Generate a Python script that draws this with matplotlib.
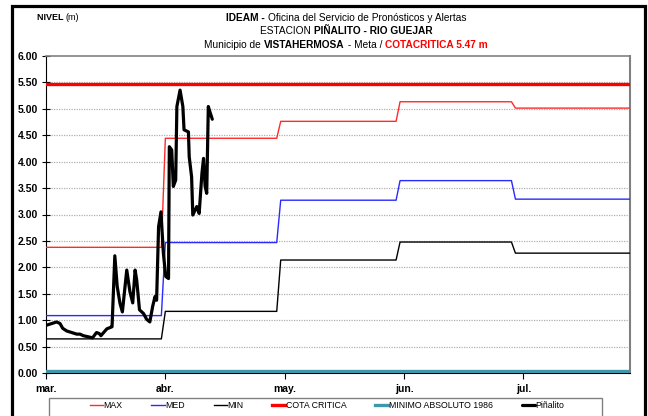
import matplotlib
matplotlib.use('Agg')
import matplotlib.pyplot as plt
from matplotlib.patches import Rectangle

W, H, DPI = 648, 416, 100

# ---------------- data ----------------
month_start = [0, 30, 59, 89, 118]
x_end = 147
max_vals = [2.38, 4.44, 4.76, 5.13, 5.01]
med_vals = [1.09, 2.47, 3.27, 3.64, 3.29]
min_vals = [0.65, 1.17, 2.14, 2.48, 2.27]
cota_critica = 5.47
minimo_absoluto = 0.04

tick_pos = [0, 30, 60, 90, 120]
tick_labels = ['mar.', 'abr.', 'may.', 'jun.', 'jul.']
y_ticks = [0, 0.5, 1, 1.5, 2, 2.5, 3, 3.5, 4, 4.5, 5, 5.5, 6]

pin_day = [0.18, 1.43, 2.69, 3.52, 4.2, 5.2, 6.46, 7.72, 8.55, 9.38, 10.6, 11.7,
           12.7, 13.4, 13.8, 14.6, 15.3, 16.3, 16.6, 17.3, 17.9, 18.6, 19.2,
           20.3, 21.1, 21.8, 22.4, 22.8, 23.5, 24.5, 25.3, 26.1, 26.8, 27.4,
           27.8, 28.3, 28.9, 29.5, 30.1, 30.8, 31.0, 31.6, 32.0, 32.6, 32.9,
           33.7, 34.4, 34.7, 35.8, 36.0, 36.6, 36.9, 37.9, 38.5, 39.2, 39.6,
           40.0, 40.4, 40.8, 41.2, 41.8]
pin_val = [0.91, 0.94, 0.97, 0.94, 0.85, 0.80, 0.77, 0.74, 0.74, 0.71, 0.69, 0.67,
           0.77, 0.75, 0.71, 0.78, 0.84, 0.87, 0.88, 2.22, 1.64, 1.32, 1.16,
           1.95, 1.54, 1.33, 1.95, 1.76, 1.20, 1.13, 1.02, 0.97, 1.26, 1.45,
           1.38, 2.77, 3.05, 2.27, 1.83, 1.79, 4.28, 4.22, 3.53, 3.65, 5.04,
           5.35, 5.04, 4.60, 4.56, 4.09, 3.71, 2.99, 3.15, 3.02, 3.78, 4.06,
           3.53, 3.40, 5.04, 4.94, 4.80]


def steps(vals):
    xs, ys = [], []
    for i, v in enumerate(vals):
        s = month_start[i]
        e = month_start[i + 1] - 1 if i + 1 < len(month_start) else x_end
        xs += [s, e]
        ys += [v, v]
    return xs, ys


FAM = ['Liberation Sans', 'DejaVu Sans']
plt.rcParams['font.family'] = FAM

fig = plt.figure(figsize=(W / DPI, H / DPI), dpi=DPI)
fig.patch.set_facecolor('white')

ax = fig.add_axes([46 / W, 1 - 373.3 / H, (630 - 46) / W, (373.3 - 55.7) / H])
ax.set_xlim(0, 146.8)
ax.set_ylim(0, 6)

for yv in y_ticks[1:-1]:
    ax.axhline(yv, color='#b0b0b0', lw=0.9, ls=(0, (1, 1)), zorder=1)

mx, my = steps(max_vals)
ax.plot(mx, my, color='#ff2a2a', lw=1.0, label='MAX', zorder=3)
dx, dy = steps(med_vals)
ax.plot(dx, dy, color='#2a2aff', lw=1.0, label='MED', zorder=3)
nx, ny = steps(min_vals)
ax.plot(nx, ny, color='black', lw=1.0, label='MIN', zorder=3)
ax.axhline(cota_critica, color='#ff0000', lw=2.4, label='COTA CRITICA', zorder=4)
ax.axhline(minimo_absoluto, color='#3e97ab', lw=2.4, label='MINIMO ABSOLUTO 1986', zorder=4)
ax.plot(pin_day, pin_val, color='black', lw=2.3, solid_joinstyle='round',
        solid_capstyle='round', label='Piñalito', zorder=5)

ax.set_yticks(y_ticks)
ax.set_yticklabels([f'{v:.2f}' for v in y_ticks], fontweight='bold', fontsize=7.5)
ax.set_xticks(tick_pos)
ax.set_xticklabels(tick_labels, fontweight='bold', fontsize=7.5)
ax.tick_params(axis='y', direction='inout', length=6, width=0.8, pad=3)
ax.tick_params(axis='x', direction='out', length=4, width=0.8, pad=4)
ax.spines['left'].set_color('black')
ax.spines['bottom'].set_color('black')
ax.spines['top'].set_color('#808080')
ax.spines['right'].set_color('#808080')
ax.spines['top'].set_linewidth(1.2)
ax.spines['right'].set_linewidth(1.5)

# legend
handles, labels = ax.get_legend_handles_labels()
leg = fig.legend(handles, labels, ncol=6, loc='center',
                 bbox_to_anchor=(327 / W, 1 - 406 / H), frameon=False,
                 prop={'family': FAM, 'size': 6.3}, handlelength=1.5,
                 handletextpad=0.05, columnspacing=3.3)
fig.patches.append(Rectangle((49 / W, -10 / H), (602 - 49) / W, (H - 398 + 10) / H,
                             transform=fig.transFigure, fill=False,
                             edgecolor='#808080', lw=1.0, clip_on=False))
# outer frame
fig.patches.append(Rectangle((11.5 / W, -20 / H), (644.5 - 11.5) / W, (H - 5.5 + 20) / H,
                             transform=fig.transFigure, fill=False,
                             edgecolor='black', lw=2.3, clip_on=False))

renderer = fig.canvas.get_renderer()


def mixed_line(segments, y_px, x_px, center=True, size=7.3):
    texts = []
    for txt, weight, color in segments:
        t = fig.text(0, 1 - y_px / H, txt, fontsize=size, fontweight=weight,
                     color=color, family=FAM, va='center', ha='left')
        texts.append(t)
    widths = [t.get_window_extent(renderer).width for t in texts]
    total = sum(widths)
    x0 = (x_px - total / 2) if center else x_px
    for t, w in zip(texts, widths):
        t.set_x(x0 / W)
        x0 += w


mixed_line([('IDEAM - ', 'bold', 'black'),
            ('Oficina del Servicio de Pronósticos y Alertas', 'normal', 'black')], 18, 346)
mixed_line([('ESTACION ', 'normal', 'black'),
            ('PIÑALITO - RIO GUEJAR', 'bold', 'black')], 31, 346)
mixed_line([('Municipio de ', 'normal', 'black'),
            ('VISTAHERMOSA', 'bold', 'black'),
            (' - Meta / ', 'normal', 'black'),
            ('COTACRITICA 5.47 m', 'bold', '#ff0000')], 44.5, 346)
mixed_line([('NIVEL ', 'bold', 'black'), ('(m)', 'normal', 'black')], 18, 37,
           center=False, size=6.5)

fig.savefig('out.png', dpi=DPI)
